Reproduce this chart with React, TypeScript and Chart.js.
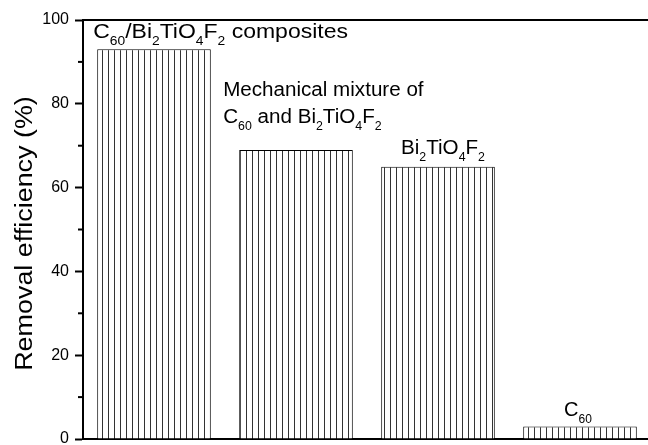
import React, { useEffect, useRef } from 'react';
import { Chart, registerables } from 'chart.js';

Chart.register(...registerables);

const categories = ['C60/Bi2TiO4F2 composites', 'Mechanical mixture of C60 and Bi2TiO4F2', 'Bi2TiO4F2', 'C60'];
const removalEfficiency = [93, 69, 65, 3];
const barLabelLines = [
  ['C_{60}/Bi_{2}TiO_{4}F_{2} composites'],
  ['Mechanical mixture of', 'C_{60} and Bi_{2}TiO_{4}F_{2}'],
  ['Bi_{2}TiO_{4}F_{2}'],
  ['C_{60}'],
];
const yAxisTitle = 'Removal efficiency (%)';

const FONT = "'Liberation Sans', Arial, sans-serif";

function parseRich(s: string): { t: string; sub: boolean }[] {
  const out: { t: string; sub: boolean }[] = [];
  const re = /_\{([^}]*)\}/g;
  let last = 0;
  let m: RegExpExecArray | null;
  while ((m = re.exec(s))) {
    if (m.index > last) out.push({ t: s.slice(last, m.index), sub: false });
    out.push({ t: m[1], sub: true });
    last = m.index + m[0].length;
  }
  if (last < s.length) out.push({ t: s.slice(last), sub: false });
  return out;
}

// label placement: [mode, xOffset, baseline distance above bar top, line height, horizontal stretch]
const labelPlacement: [string, number, number, number, number][] = [
  ['left', -4, 11, 27, 1.15],
  ['left', -16, 27, 27, 1.03],
  ['center', 5, 13, 27, 1.03],
  ['center', -2, 10, 27, 1.0],
];

const MAIN_SIZE = 20;
const SUB_SIZE = 12;
const SUB_DROP = 7;

const barLabelPlugin = {
  id: 'barLabels',
  afterDatasetsDraw(chart: any) {
    const ctx = chart.ctx as CanvasRenderingContext2D;
    const meta = chart.getDatasetMeta(0);
    ctx.save();
    ctx.fillStyle = '#000';
    ctx.textBaseline = 'alphabetic';
    ctx.textAlign = 'left';
    meta.data.forEach((bar: any, i: number) => {
      const lines = barLabelLines[i];
      const [mode, dx, above, lh, sx] = labelPlacement[i];
      const left = bar.x - bar.width / 2;
      lines.forEach((line, li) => {
        const segs = parseRich(line);
        let w = 0;
        segs.forEach((sg) => {
          ctx.font = `${sg.sub ? SUB_SIZE : MAIN_SIZE}px ${FONT}`;
          w += ctx.measureText(sg.t).width;
        });
        const x0 = mode === 'left' ? left + dx : bar.x + dx - (w * sx) / 2;
        const baseline = bar.y - above - (lines.length - 1 - li) * lh;
        ctx.save();
        ctx.translate(x0, baseline);
        ctx.scale(sx, 1);
        let x = 0;
        segs.forEach((sg) => {
          ctx.font = `${sg.sub ? SUB_SIZE : MAIN_SIZE}px ${FONT}`;
          ctx.fillText(sg.t, x, sg.sub ? SUB_DROP : 0);
          x += ctx.measureText(sg.t).width;
        });
        ctx.restore();
      });
    });
    ctx.restore();
  },
};

const frameTicksPlugin = {
  id: 'frameTicks',
  afterDraw(chart: any) {
    const ctx = chart.ctx as CanvasRenderingContext2D;
    const { left, right, top, bottom } = chart.chartArea;
    const y = chart.scales.y;
    ctx.save();
    ctx.strokeStyle = '#000';
    ctx.lineWidth = 2;
    ctx.beginPath();
    ctx.moveTo(left - 1, top);
    ctx.lineTo(right + 1, top);
    ctx.stroke();
    y.ticks.forEach((t: any) => {
      if (t.value % 20 !== 0) {
        const py = y.getPixelForValue(t.value);
        ctx.beginPath();
        ctx.moveTo(left - 5, py);
        ctx.lineTo(left, py);
        ctx.stroke();
      }
    });
    // rotated y-axis title
    ctx.fillStyle = '#000';
    ctx.font = `23px ${FONT}`;
    ctx.textAlign = 'center';
    ctx.textBaseline = 'alphabetic';
    ctx.translate(32, (top + bottom) / 2 + 4);
    ctx.rotate(-Math.PI / 2);
    ctx.scale(1.17, 1);
    ctx.fillText(yAxisTitle, 0, 0);
    ctx.restore();
  },
};

function makePattern(): CanvasPattern | string {
  const c = document.createElement('canvas');
  c.width = 6;
  c.height = 6;
  const g = c.getContext('2d');
  if (!g) return '#fff';
  g.fillStyle = '#fff';
  g.fillRect(0, 0, 6, 6);
  g.fillStyle = '#333';
  g.fillRect(0, 0, 1, 6);
  const p = g.createPattern(c, 'repeat');
  return p || '#fff';
}

export default function App() {
  const ref = useRef<HTMLCanvasElement | null>(null);
  useEffect(() => {
    if (!ref.current) return;
    const chart = new Chart(ref.current, {
      type: 'bar',
      data: {
        labels: categories,
        datasets: [
          {
            data: removalEfficiency,
            backgroundColor: makePattern() as any,
            borderColor: '#000',
            borderWidth: 1,
            categoryPercentage: 1,
            barPercentage: 0.8,
          },
        ],
      },
      options: {
        responsive: false,
        animation: false,
        devicePixelRatio: 1,
        layout: { padding: { top: 20, right: 14, bottom: 6, left: 0 } },
        plugins: { legend: { display: false }, tooltip: { enabled: false }, title: { display: false } },
        scales: {
          x: {
            ticks: { display: false },
            grid: { display: false },
            border: { display: true, color: '#000', width: 2 },
            afterFit: (s: any) => {
              s.height = 0;
            },
          },
          y: {
            min: 0,
            max: 100,
            afterFit: (s: any) => {
              s.width = 83;
              s.paddingTop = 0;
              s.paddingBottom = 0;
            },
            ticks: {
              stepSize: 10,
              autoSkip: false,
              padding: 6,
              color: '#000',
              font: { family: FONT, size: 16 },
              callback: (v: any) => (Number(v) % 20 === 0 ? String(v) : ''),
            },
            grid: {
              drawOnChartArea: false,
              tickLength: 8,
              tickWidth: 2,
              tickColor: (c: any) => (c.tick && c.tick.value % 20 === 0 ? '#000' : 'rgba(0,0,0,0)'),
            },
            border: { display: true, color: '#000', width: 2 },
            title: { display: false },
          },
        },
      },
      plugins: [barLabelPlugin, frameTicksPlugin],
    });
    return () => chart.destroy();
  }, []);
  return (
    <div style={{ position: 'fixed', left: 0, top: 0, width: 648, height: 445, overflow: 'hidden', background: '#fff' }}>
      <canvas ref={ref} width={665} height={445} style={{ display: 'block' }} />
    </div>
  );
}
